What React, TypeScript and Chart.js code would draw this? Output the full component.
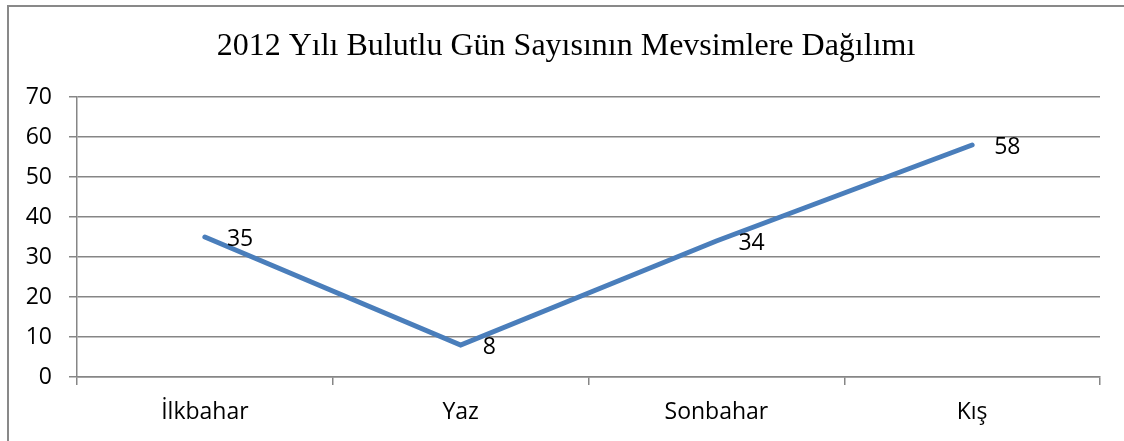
import React, { useEffect, useRef } from "react";
import { Chart, registerables } from "chart.js";

Chart.register(...registerables);

const title = "2012 Yılı Bulutlu Gün Sayısının Mevsimlere Dağılımı";
const categories = ["İlkbahar", "Yaz", "Sonbahar", "Kış"];
const cloudyDays = [35, 8, 34, 58];
const yTicks = [0, 10, 20, 30, 40, 50, 60, 70];

const W = 1124;
const H = 441;
const LABEL_FONT = "'Open Sans', sans-serif";

const framePlugin = {
  id: "frame",
  beforeDraw(chart: any) {
    const ctx = chart.ctx;
    ctx.save();
    ctx.fillStyle = "#ffffff";
    ctx.fillRect(0, 0, chart.width, chart.height);
    ctx.strokeStyle = "#898989";
    ctx.lineWidth = 2;
    ctx.beginPath();
    ctx.moveTo(8, H);
    ctx.lineTo(8, 6);
    ctx.lineTo(W, 6);
    ctx.stroke();
    ctx.fillStyle = "#000000";
    ctx.font = "32px 'Liberation Serif', 'Times New Roman', serif";
    ctx.textAlign = "center";
    ctx.textBaseline = "middle";
    ctx.fillText(title, 566, 47);
    ctx.restore();
  },
};

const labelPlugin = {
  id: "valueLabels",
  afterDatasetsDraw(chart: any) {
    const ctx = chart.ctx;
    const meta = chart.getDatasetMeta(0);
    ctx.save();
    ctx.fillStyle = "#000000";
    ctx.font = `23px ${LABEL_FONT}`;
    ctx.textAlign = "left";
    ctx.textBaseline = "middle";
    meta.data.forEach((pt: any, i: number) => {
      ctx.fillText(String(cloudyDays[i]), pt.x + 22, pt.y + 2);
    });
    ctx.restore();
  },
};

export default function App() {
  const ref = useRef<HTMLCanvasElement>(null);
  useEffect(() => {
    if (!ref.current) return;
    const chart = new Chart(ref.current, {
      type: "line",
      data: {
        labels: categories,
        datasets: [
          {
            data: cloudyDays,
            borderColor: "#4A7EBB",
            borderWidth: 5,
            borderCapStyle: "round",
            borderJoinStyle: "miter",
            pointRadius: 0,
            tension: 0,
            fill: false,
          },
        ],
      },
      options: {
        animation: false,
        responsive: false,
        maintainAspectRatio: false,
        layout: { padding: { top: 97, left: 0, right: 24, bottom: 0 } },
        plugins: {
          legend: { display: false },
          title: { display: false },
          tooltip: { enabled: false },
        },
        scales: {
          x: {
            type: "category",
            offset: true,
            grid: {
              display: true,
              offset: true,
              drawOnChartArea: false,
              drawTicks: true,
              tickLength: 8,
              color: "#868686",
              lineWidth: 1.5,
            },
            border: { display: true, color: "#868686", width: 1.5 },
            ticks: {
              color: "#000000",
              font: { family: LABEL_FONT, size: 23 },
              padding: 14,
              maxRotation: 0,
            },
            afterFit(scale: any) {
              scale.height = H - 377;
            },
          },
          y: {
            min: 0,
            max: 70,
            afterBuildTicks(scale: any) {
              scale.ticks = yTicks.map((v) => ({ value: v }));
            },
            grid: {
              display: true,
              drawTicks: true,
              tickLength: 8,
              color: "#868686",
              lineWidth: 1.5,
            },
            border: { display: true, color: "#868686", width: 1.5 },
            ticks: {
              color: "#000000",
              font: { family: LABEL_FONT, size: 23 },
              padding: 17,
            },
            afterFit(scale: any) {
              scale.width = 77;
            },
          },
        },
      },
      plugins: [framePlugin, labelPlugin],
    });
    return () => chart.destroy();
  }, []);
  return (
    <div style={{ position: "absolute", left: 0, top: 0, width: W, height: H }}>
      <canvas ref={ref} width={W} height={H} style={{ width: W, height: H, display: "block" }} />
    </div>
  );
}
